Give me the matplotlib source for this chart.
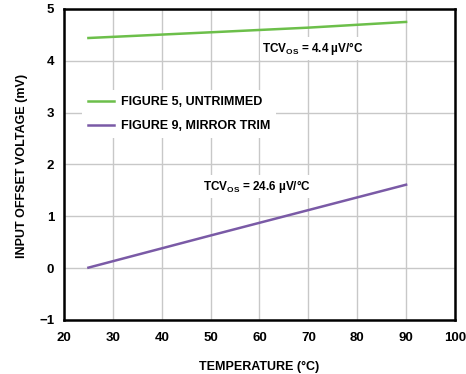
import matplotlib
matplotlib.use("Agg")
import matplotlib.pyplot as plt

plt.rcParams['font.family'] = ['Liberation Sans', 'DejaVu Sans']
plt.rcParams['font.weight'] = 'bold'
plt.rcParams['mathtext.fontset'] = 'custom'
plt.rcParams['mathtext.rm'] = 'Liberation Sans:bold'
plt.rcParams['mathtext.bf'] = 'Liberation Sans:bold'

temp_untrimmed = [25, 50, 70, 90]
vos_untrimmed = [4.44, 4.55, 4.64, 4.75]
temp_mirror = [25, 50, 70, 90]
vos_mirror = [0.01, 0.63, 1.12, 1.61]

label_untrimmed = "FIGURE 5, UNTRIMMED"
label_mirror = "FIGURE 9, MIRROR TRIM"
xticks = [20, 30, 40, 50, 60, 70, 80, 90, 100]
yticks = [-1, 0, 1, 2, 3, 4, 5]

fig = plt.figure(figsize=(4.66, 3.74), dpi=100)
ax = fig.add_axes([0.1373, 0.1444, 0.8390, 0.8316])

ax.plot(temp_untrimmed, vos_untrimmed, color='#6cbf4a', lw=1.8, label=label_untrimmed, zorder=3)
ax.plot(temp_mirror, vos_mirror, color='#7a5aa6', lw=1.8, label=label_mirror, zorder=3)

ax.set_xlim(20, 100)
ax.set_ylim(-1, 5)
ax.set_xticks(xticks)
ax.set_yticks(yticks)
ax.set_xticklabels([str(t) for t in xticks], fontsize=9.5, fontweight='bold')
ax.set_yticklabels(['\u22121' if t < 0 else str(t) for t in yticks], fontsize=9.5, fontweight='bold')
ax.tick_params(axis='x', length=0, pad=9)
ax.tick_params(axis='y', length=0, pad=7)
ax.grid(True, color='#c8c8c8', lw=1.0, zorder=0)
ax.set_axisbelow(True)
for s in ax.spines.values():
    s.set_linewidth(1.8)
    s.set_color('black')

ax.set_xlabel('TEMPERATURE (°C)', fontsize=9, fontweight='bold', labelpad=12)
ax.set_ylabel('INPUT OFFSET VOLTAGE (mV)', fontsize=9, fontweight='bold')
ax.yaxis.set_label_coords(-0.092, 0.495)

bb = dict(facecolor='white', edgecolor='none', pad=2)
ax.text(60.6, 4.24, r'TCV$_{\mathrm{OS}}$ = 4.4 µV/°C', fontsize=8.5, fontweight='bold',
        va='center', ha='left', bbox=bb, zorder=2)
ax.text(48.4, 1.57, r'TCV$_{\mathrm{OS}}$ = 24.6 µV/°C', fontsize=8.5, fontweight='bold',
        va='center', ha='left', bbox=bb, zorder=2)

leg = ax.legend(loc='upper left', bbox_to_anchor=(0.03, 0.76), fontsize=9,
                frameon=True, facecolor='white', edgecolor='none', framealpha=1,
                handlelength=2.1, handletextpad=0.5, labelspacing=0.95, borderpad=0.5)
for t in leg.get_texts():
    t.set_fontweight('bold')

fig.savefig('out.png', dpi=100)
